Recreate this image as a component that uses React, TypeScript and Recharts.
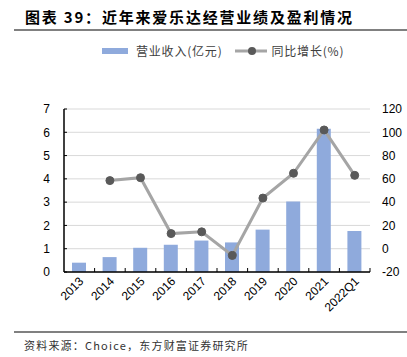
import { ComposedChart, Bar, Line, XAxis, YAxis, CartesianGrid, Legend } from "recharts"

const years = ["2013", "2014", "2015", "2016", "2017", "2018", "2019", "2020", "2021", "2022Q1"]
const revenue = [0.4, 0.64, 1.04, 1.17, 1.35, 1.27, 1.82, 3.03, 6.15, 1.76]
const growth = [null, 58.5, 61, 13, 14.5, -5.8, 43.5, 64.8, 102, 63]
const leftTicks = [0, 1, 2, 3, 4, 5, 6, 7]
const rightTicks = [-20, 0, 20, 40, 60, 80, 100, 120]

const data = years.map((year, i) => ({ year, revenue: revenue[i], growth: growth[i] }))

const W = 407
const H = 357
const PLOT_LEFT = 64
const PLOT_RIGHT = 370
const BAND = (PLOT_RIGHT - PLOT_LEFT) / years.length
const FONT = "'Liberation Sans', Arial, sans-serif"
const CJK = "'Noto Sans CJK SC', sans-serif"

function YearTick(props: any) {
  const { x, y, payload } = props
  return (
    <g>
      <line x1={x + BAND / 2} x2={x + BAND / 2} y1={y} y2={y - 4} stroke="#000" strokeWidth={1} />
      <text
        x={0}
        y={0}
        transform={`translate(${x + 5},${y + 10}) rotate(-45)`}
        textAnchor="end"
        fontSize={12}
        fontFamily={FONT}
        fill="#000"
      >
        {payload.value}
      </text>
    </g>
  )
}

function LegendBox() {
  return (
    <div
      style={{
        display: "flex",
        alignItems: "center",
        fontFamily: CJK,
        fontSize: 12,
        letterSpacing: 0.8,
        color: "#404040",
      }}
    >
      <span style={{ display: "inline-block", width: 26, height: 6, background: "#8FAADC", marginLeft: 102 }} />
      <span style={{ marginLeft: 8 }}>营业收入(亿元)</span>
      <svg width={34} height={10} style={{ marginLeft: 12 }}>
        <line x1={0} x2={32} y1={5} y2={5} stroke="#A5A5A5" strokeWidth={3} />
        <circle cx={17} cy={5} r={4} fill="#595959" />
      </svg>
      <span style={{ marginLeft: 3 }}>同比增长(%)</span>
    </div>
  )
}

export default function App() {
  return (
    <div style={{ position: "absolute", left: 0, top: 0, width: W, height: H, background: "#fff" }}>
      <ComposedChart
        width={W}
        height={H}
        data={data}
        margin={{ top: 92, right: 0, left: 0, bottom: 0 }}
        barSize={14}
      >
        <CartesianGrid vertical={false} stroke="#D9D9D9" yAxisId="left" />
        <XAxis
          dataKey="year"
          height={H - 272}
          tickSize={0}
          tickMargin={0}
          tick={<YearTick />}
          axisLine={{ stroke: "#000", strokeWidth: 1.5 }}
          interval={0}
        />
        <YAxis
          yAxisId="left"
          width={PLOT_LEFT}
          domain={[0, 7]}
          ticks={leftTicks}
          tickSize={-3}
          tickMargin={17}
          tickLine={{ stroke: "#000" }}
          axisLine={{ stroke: "#000", strokeWidth: 1.5 }}
          tick={{ fontSize: 12, fontFamily: FONT, fill: "#000" }}
        />
        <YAxis
          yAxisId="right"
          orientation="right"
          width={W - PLOT_RIGHT}
          domain={[-20, 120]}
          ticks={rightTicks}
          tickSize={0}
          tickMargin={12}
          tickLine={false}
          axisLine={false}
          tick={{ fontSize: 12, fontFamily: FONT, fill: "#000", textAnchor: "start" }}
        />
        <Legend
          verticalAlign="top"
          align="left"
          content={() => <LegendBox />}
          wrapperStyle={{ top: 42, left: 0, width: W }}
        />
        <Bar yAxisId="left" dataKey="revenue" fill="#8FAADC" isAnimationActive={false} />
        <Line
          yAxisId="right"
          dataKey="growth"
          stroke="#A5A5A5"
          strokeWidth={3}
          dot={{ r: 4, fill: "#595959", stroke: "#595959", strokeWidth: 1 }}
          isAnimationActive={false}
        />
      </ComposedChart>
      <div
        style={{
          position: "absolute",
          left: 25,
          top: 6,
          fontFamily: CJK,
          fontWeight: 700,
          fontSize: 15,
          letterSpacing: 1.8,
          color: "#000",
          whiteSpace: "nowrap",
        }}
      >
        图表 39：近年来爱乐达经营业绩及盈利情况
      </div>
      <div style={{ position: "absolute", left: 14, top: 29, width: W - 14, height: 1.5, background: "#808080" }} />
      <div style={{ position: "absolute", left: 14, top: 331, width: W - 14, height: 1.5, background: "#808080" }} />
      <div
        style={{
          position: "absolute",
          left: 24,
          top: 337,
          fontFamily: CJK,
          fontSize: 11,
          letterSpacing: 1.2,
          color: "#333",
          whiteSpace: "nowrap",
        }}
      >
        资料来源：Choice，东方财富证券研究所
      </div>
    </div>
  )
}
